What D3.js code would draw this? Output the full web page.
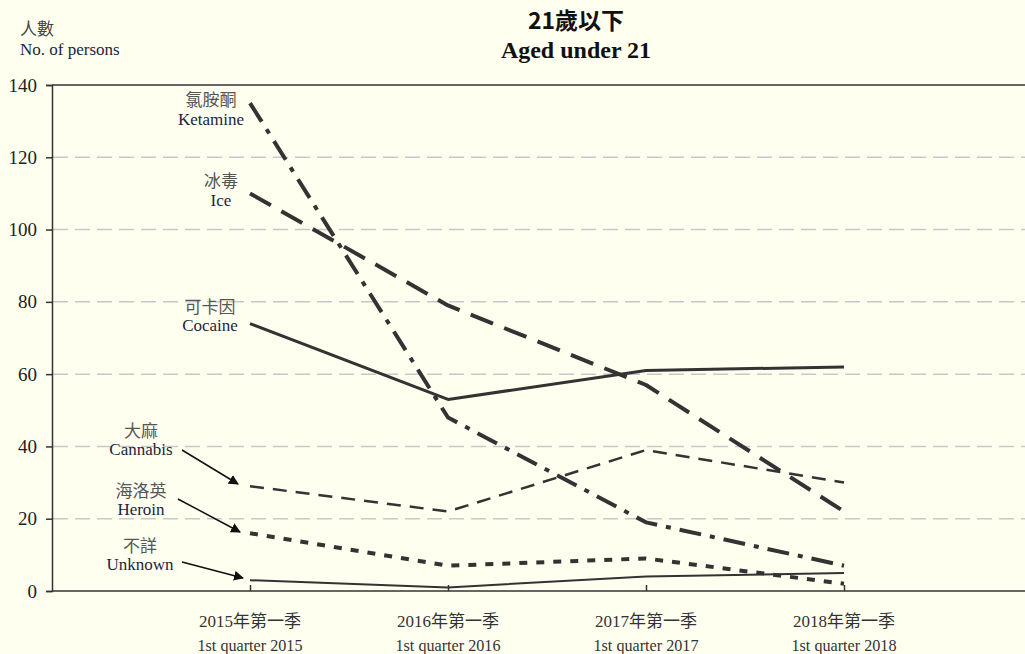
<!DOCTYPE html>
<html><head><meta charset="utf-8">
<script src="https://cdn.jsdelivr.net/npm/d3@7"></script>
<style>
html,body{margin:0;padding:0;background:#fffff0;}
svg{display:block;}
</style></head>
<body>
<script>
const categoriesZh = ["2015年第一季","2016年第一季","2017年第一季","2018年第一季"];
const categoriesEn = ["1st quarter 2015","1st quarter 2016","1st quarter 2017","1st quarter 2018"];
const yTicks = [0,20,40,60,80,100,120,140];
const seriesZh = ["氯胺酮","冰毒","可卡因","大麻","海洛英","不詳"];
const seriesEn = ["Ketamine","Ice","Cocaine","Cannabis","Heroin","Unknown"];
const ketamine = [135,48,19,7];
const ice = [110,79,57,22];
const cocaine = [74,53,61,62];
const cannabis = [29,22,39,30];
const heroin = [16,7,9,2];
const unknown = [3,1,4,5];

const W=1025,H=654;
const svg=d3.select("body").append("svg").attr("width",W).attr("height",H);
svg.append("rect").attr("width",W).attr("height",H).attr("fill","#fffff0");

const x=d3.scaleLinear().domain([0,5]).range([52,1042]);
const y=d3.scaleLinear().domain([0,140]).range([591,85]);

// gridlines
svg.append("g").selectAll("line").data(yTicks.filter(d=>d>0&&d<140)).join("line")
  .attr("x1",53).attr("x2",W).attr("y1",d=>y(d)).attr("y2",d=>y(d))
  .attr("stroke","#c8c8c8").attr("stroke-width",1.5).attr("stroke-dasharray","15,7");

// top border
svg.append("line").attr("x1",52).attr("x2",W).attr("y1",y(140)).attr("y2",y(140))
  .attr("stroke","#333").attr("stroke-width",1.5);

// y axis
const yAxis=svg.append("g").attr("transform","translate(52,0)")
  .call(d3.axisLeft(y).tickValues(yTicks).tickSize(6).tickPadding(9))
  .attr("font-family","Liberation Serif, serif").attr("font-size",19);
yAxis.select(".domain").attr("stroke","#333").attr("stroke-width",1.5);
yAxis.selectAll(".tick line").attr("stroke","#333").attr("stroke-width",1.5);
yAxis.selectAll("text").attr("font-family","Liberation Serif, serif").attr("font-size",19).attr("fill","#222");

// x axis
const xAxis=svg.append("g").attr("transform","translate(0,591)")
  .call(d3.axisBottom(x).tickValues([1,2,3,4]).tickSize(-6).tickFormat(""));
xAxis.select(".domain").attr("stroke","#333").attr("stroke-width",1.5).attr("d","M52,0H"+W);
xAxis.selectAll(".tick line").attr("stroke","#333").attr("stroke-width",1.5);

const xl=svg.append("g");
categoriesZh.forEach((c,i)=>{
  xl.append("text").attr("x",x(i+1)).attr("y",627).attr("text-anchor","middle")
    .attr("font-family","Liberation Serif, Noto Sans CJK TC").attr("font-size",17).attr("fill","#333")
    .attr("textLength",102).attr("lengthAdjust","spacingAndGlyphs").text(c);
  xl.append("text").attr("x",x(i+1)).attr("y",651).attr("text-anchor","middle")
    .attr("font-family","Liberation Serif").attr("font-size",17).attr("fill","#333")
    .attr("textLength",105).attr("lengthAdjust","spacingAndGlyphs").text(categoriesEn[i]);
});

// lines
const seriesData=[ketamine,ice,cocaine,cannabis,heroin,unknown];
const styles=[
  {w:4,dash:"22,9,5,9"},
  {w:4,dash:"24,12"},
  {w:3,dash:null},
  {w:2.5,dash:"14,9"},
  {w:4,dash:"8,9"},
  {w:2,dash:null}
];
const line=d3.line().x((d,i)=>x(i+1)).y(d=>y(d));
seriesData.forEach((s,k)=>{
  svg.append("path").datum(s).attr("d",line).attr("fill","none")
    .attr("stroke","#333").attr("stroke-width",styles[k].w)
    .attr("stroke-dasharray",styles[k].dash).attr("stroke-linejoin","round");
});

// series labels
const labPos=[[211,106,125],[221,187,206],[210,313,331],[141,437,455],[141,497,515],[140,552,570]];
seriesZh.forEach((s,k)=>{
  const p=labPos[k];
  svg.append("text").attr("x",p[0]).attr("y",p[1]).attr("text-anchor","middle")
    .attr("font-family","Noto Sans CJK TC").attr("font-size",17).attr("fill","#555").text(s);
  svg.append("text").attr("x",p[0]).attr("y",p[2]).attr("text-anchor","middle")
    .attr("font-family","Liberation Serif").attr("font-size",17).attr("fill","#1c2540").text(seriesEn[k]);
});

// arrows
svg.append("defs").append("marker").attr("id","ah").attr("viewBox","0 0 10 10")
  .attr("refX",9).attr("refY",5).attr("markerWidth",10).attr("markerHeight",10)
  .attr("markerUnits","userSpaceOnUse").attr("orient","auto")
  .append("path").attr("d","M0,0L10,5L0,10Z").attr("fill","#111");
const arrows=[[182,450,238,484],[178,499,240,532],[182,562,243,578]];
arrows.forEach(a=>{
  svg.append("line").attr("x1",a[0]).attr("y1",a[1]).attr("x2",a[2]).attr("y2",a[3])
    .attr("stroke","#111").attr("stroke-width",1.5).attr("marker-end","url(#ah)");
});

// titles
svg.append("text").attr("x",576).attr("y",29).attr("text-anchor","middle")
  .attr("font-family","Noto Sans CJK TC").attr("font-weight","bold").attr("font-size",23).attr("fill","#111").text("21歲以下");
svg.append("text").attr("x",576).attr("y",58).attr("text-anchor","middle")
  .attr("font-family","Liberation Serif").attr("font-weight","bold").attr("font-size",24).attr("fill","#111").text("Aged under 21");
svg.append("text").attr("x",20).attr("y",35)
  .attr("font-family","Noto Sans CJK TC").attr("font-size",17).attr("fill","#444").text("人數");
svg.append("text").attr("x",20).attr("y",55)
  .attr("font-family","Liberation Serif").attr("font-size",17).attr("fill","#1c2540").text("No. of persons");
</script>
</body></html>
